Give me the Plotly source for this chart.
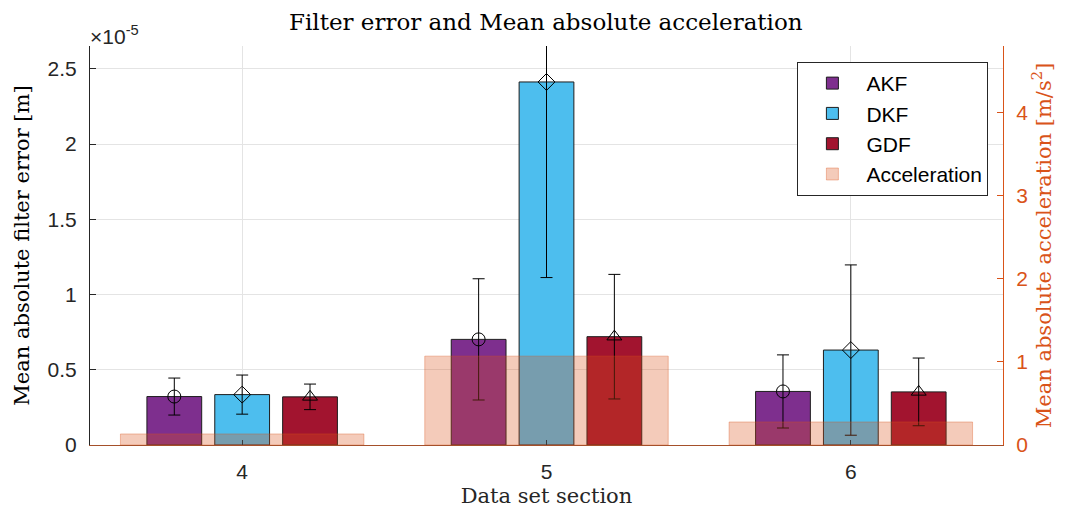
import plotly.graph_objects as go

# Data (filter error values in units of 1e-5 m)
sections = [4, 5, 6]
akf = [0.322, 0.702, 0.356]
akf_err = [0.123, 0.403, 0.243]
dkf = [0.335, 2.413, 0.631]
dkf_err = [0.130, 1.300, 0.566]
gdf = [0.320, 0.720, 0.353]
gdf_err = [0.085, 0.414, 0.225]
accel = [0.133, 1.069, 0.277]
left_ticks = [0, 0.5, 1, 1.5, 2, 2.5]
left_ticktext = ["0", "0.5", "1", "1.5", "2", "2.5"]
right_ticks = [0, 1, 2, 3, 4]

ORANGE = "rgb(217,83,25)"
DARK = "rgb(38,38,38)"
BAR_W = 0.18
series = [
    ("AKF", akf, akf_err, "rgb(126,47,142)", -0.223, "circle-open"),
    ("DKF", dkf, dkf_err, "rgb(77,190,238)", 0.0, "diamond-open"),
    ("GDF", gdf, gdf_err, "rgb(162,20,47)", 0.223, "triangle-up-open"),
]

fig = go.Figure()
for name, vals, errs, col, off, sym in series:
    fig.add_trace(go.Bar(
        x=sections, y=vals, name=name, width=BAR_W, offset=off - BAR_W / 2,
        marker=dict(color=col, line=dict(color="rgb(30,30,30)", width=1)),
        yaxis="y",
    ))
for name, vals, errs, col, off, sym in series:
    fig.add_trace(go.Scatter(
        x=[s + off for s in sections], y=vals, mode="markers", showlegend=False,
        marker=dict(symbol=sym, size=13, color="black", line=dict(width=1, color="black")),
        error_y=dict(type="data", array=errs, color="black", thickness=1, width=6),
        yaxis="y",
    ))
fig.add_trace(go.Bar(
    x=sections, y=accel, name="Acceleration", width=0.8, offset=-0.4,
    marker=dict(color="rgba(217,83,25,0.3)", line=dict(color="rgba(217,83,25,0.35)", width=1)),
    yaxis="y2",
))

serif = "DejaVu Serif"
sans = "Liberation Sans, Arial"
H = 515
fig.update_layout(
    width=1065, height=H,
    margin=dict(l=82, r=70, t=38, b=78, autoexpand=False),
    plot_bgcolor="white", paper_bgcolor="white",
    barmode="overlay",
    showlegend=True,
    title=dict(text="Filter error and Mean absolute acceleration", x=0.505, xanchor="center",
               y=1 - 14 / H, yanchor="middle", font=dict(family=serif, size=23, color="black")),
    xaxis=dict(
        range=[3.5, 6.5], tickvals=sections, ticktext=[str(s) for s in sections],
        showgrid=True, gridcolor="rgb(228,228,228)", gridwidth=1,
        showline=True, linecolor="rgb(165,80,42)", linewidth=1,
        ticks="inside", ticklen=5, tickcolor="rgb(60,60,60)",
        tickfont=dict(family=sans, size=21, color=DARK), ticklabelstandoff=8,
        title=dict(text="Data set section", font=dict(family=serif, size=21, color=DARK), standoff=6),
        zeroline=False, automargin=False,
    ),
    yaxis=dict(
        range=[0, 2.652], tickvals=left_ticks, ticktext=left_ticktext,
        showgrid=True, gridcolor="rgb(228,228,228)", gridwidth=1,
        showline=True, linecolor=DARK, linewidth=1,
        ticks="inside", ticklen=6, tickcolor=DARK,
        tickfont=dict(family=sans, size=21, color=DARK), ticklabelstandoff=8,
        title=dict(text="Mean absolute filter error [m]", font=dict(family=serif, size=21, color="black"), standoff=12),
        zeroline=False, automargin=False,
    ),
    yaxis2=dict(
        range=[0, 4.80], tickvals=right_ticks, overlaying="y", side="right",
        showgrid=False, showline=True, linecolor=ORANGE, linewidth=1,
        ticks="inside", ticklen=6, tickcolor=ORANGE,
        tickfont=dict(family=sans, size=21, color=ORANGE), ticklabelstandoff=8,
        title=dict(text="Mean absolute acceleration [m/s<sup>2</sup>]", font=dict(family=serif, size=21, color=ORANGE), standoff=6),
        zeroline=False, automargin=False,
    ),
    legend=dict(
        x=0.984, y=0.96, xanchor="right", yanchor="top",
        bgcolor="white", bordercolor=DARK, borderwidth=1,
        font=dict(family=sans, size=21, color="black"),
        traceorder="normal", tracegroupgap=0, itemwidth=58,
    ),
    annotations=[dict(
        text="×10<sup>-5</sup>", xref="paper", yref="paper", x=0.0, y=1.0,
        xanchor="left", yanchor="bottom", showarrow=False, yshift=-4, xshift=-2,
        font=dict(family=sans, size=21, color=DARK),
    )],
)

fig.write_html("out.html")
